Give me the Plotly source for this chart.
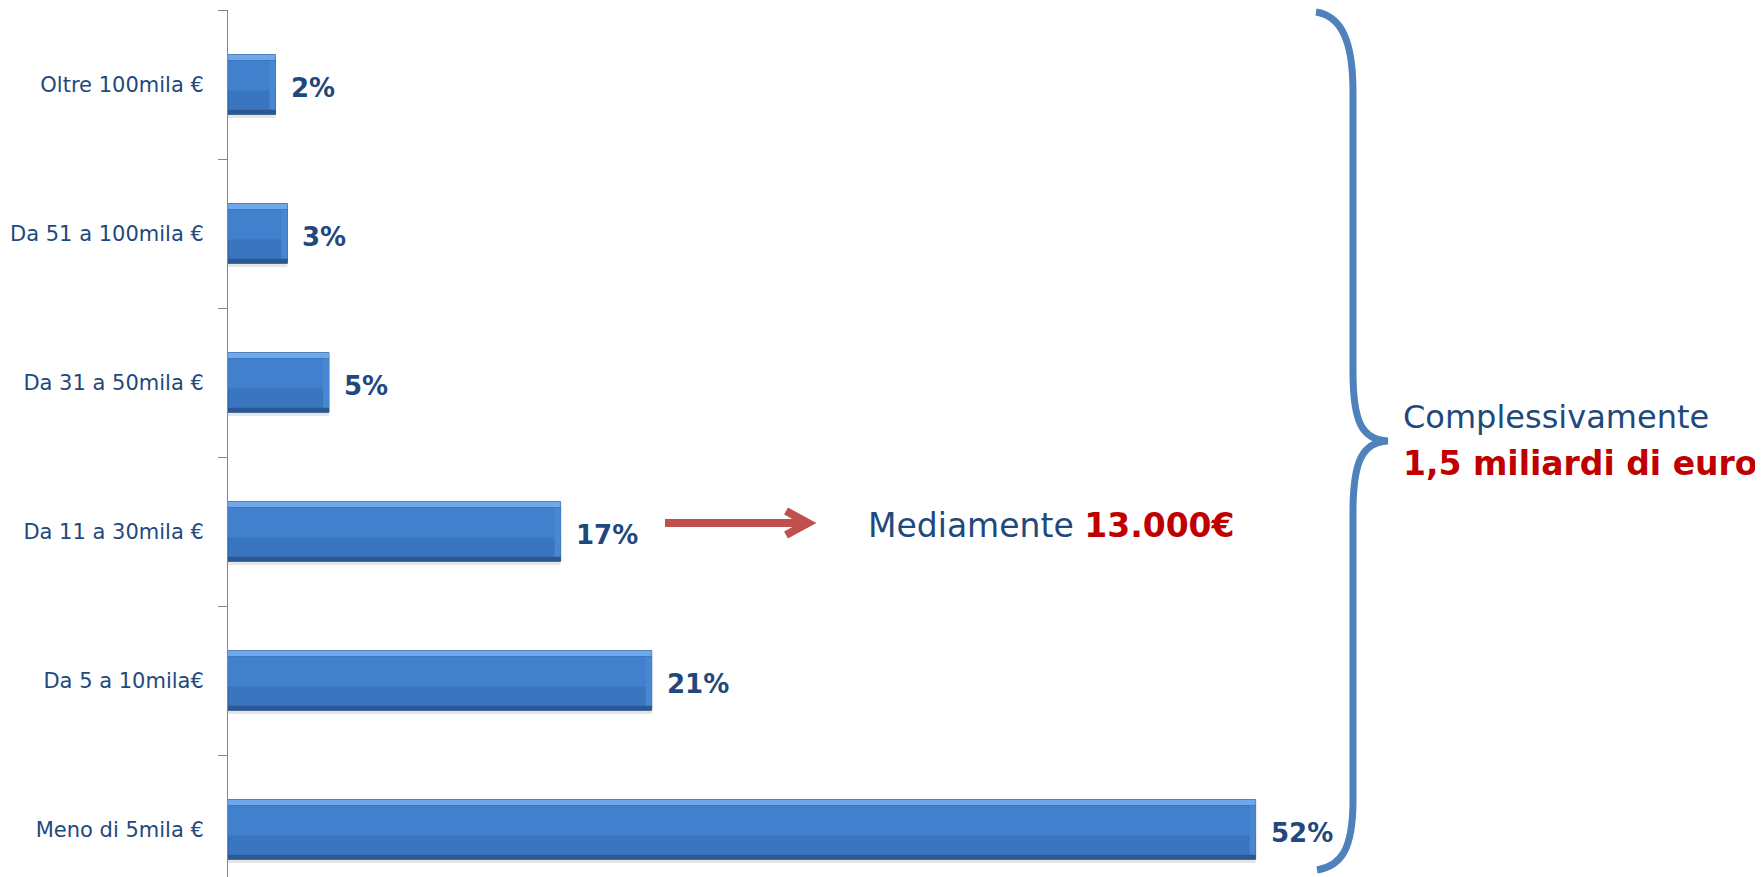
import plotly.graph_objects as go

# ---- data (bottom to top) ----
categories = ["Meno di 5mila €", "Da 5 a 10mila€", "Da 11 a 30mila €",
              "Da 31 a 50mila €", "Da 51 a 100mila €", "Oltre 100mila €"]
values = [51.9, 21.4, 16.8, 5.1, 3.0, 2.4]
labels = [f"{round(v)}%" for v in values]

note_avg = "Mediamente "
note_avg_value = "13.000€"
note_total = "Complessivamente"
note_total_value = "1,5 miliardi di euro"

# ---- layout geometry (page has an 8px body margin) ----
PAGE_OFF = 8
W, H = 1763 - PAGE_OFF, 877 - PAGE_OFF
L, R, T, B = 228 - PAGE_OFF, 0, 10 - PAGE_OFF, 0
PW, PH = W - L - R, H - T - B
PX_PER_UNIT = 19.8
BAND = 149
n = len(categories)
y_top = n - 0.5
y_bottom = y_top - PH / BAND
x_max = PW / PX_PER_UNIT


def px(x):
    # x given in screen pixels
    return (x - PAGE_OFF - L) / PW


def py(y):
    # y given in screen pixels
    return (H - B - (y - PAGE_OFF)) / PH


BLUE_TXT = "#1F497D"
RED_TXT = "#C00000"
FONT = "DejaVu Sans"

fig = go.Figure()


def layer(offset, width, color, x=None, base=None, line=None):
    fig.add_trace(go.Bar(
        x=x if x is not None else values, y=categories, base=base,
        orientation="h", offset=offset, width=width,
        marker=dict(color=color, line=line or dict(width=0)),
        hoverinfo="skip", showlegend=False))


# drop shadow
layer(-0.225, 0.03, "rgba(0,0,0,0.10)")
# main body
layer(-0.2, 0.4, "#3A75C0", line=dict(color="#2F5E9B", width=1))
# upper part slightly lighter (gradient feel)
layer(-0.04, 0.2, "#4080CC")
# right end bevel
layer(-0.17, 0.33, "#4A87D1", x=[0.3] * n, base=[v - 0.3 for v in values])
# top highlight
layer(0.165, 0.035, "#6FA8EA")
# bottom dark edge
layer(-0.2, 0.03, "#2C5891")

annotations = []
for v, c, t in zip(values, categories, labels):
    annotations.append(dict(
        x=v, y=c, xref="x", yref="y", text=f"<b>{t}</b>",
        xanchor="left", yanchor="middle", xshift=13, yshift=-3,
        showarrow=False, font=dict(family=FONT, size=26, color=BLUE_TXT)))

annotations.append(dict(
    x=px(866), y=py(525), xref="paper", yref="paper",
    text=f"{note_avg}<b><span style='color:{RED_TXT}'>{note_avg_value}</span></b>",
    xanchor="left", yanchor="middle", showarrow=False,
    font=dict(family=FONT, size=33, color=BLUE_TXT)))
annotations.append(dict(
    x=px(1401), y=py(417), xref="paper", yref="paper", text=note_total,
    xanchor="left", yanchor="middle", showarrow=False,
    font=dict(family=FONT, size=32, color=BLUE_TXT)))
annotations.append(dict(
    x=px(1401), y=py(463), xref="paper", yref="paper",
    text=f"<b>{note_total_value}</b>",
    xanchor="left", yanchor="middle", showarrow=False,
    font=dict(family=FONT, size=33, color=RED_TXT)))


def path_from(cmds):
    out = []
    for cmd in cmds:
        op, pts = cmd[0], cmd[1:]
        coords = " ".join(f"{px(x):.5f},{py(y):.5f}" for x, y in pts)
        out.append(f"{op}{coords}")
    return " ".join(out)


brace = path_from([
    ("M", (1316, 12)),
    ("C", (1341, 16), (1353, 40), (1353, 92)),
    ("L", (1353, 372)),
    ("C", (1353, 422), (1362, 440), (1388, 441)),
    ("C", (1362, 442), (1353, 462), (1353, 512)),
    ("L", (1353, 800)),
    ("C", (1353, 850), (1341, 866), (1317, 870)),
])

arrow_shaft = path_from([("M", (665, 523)), ("L", (804, 523))])
arrow_head = path_from([("M", (786, 511)), ("L", (808, 523)), ("L", (786, 535))])

shapes = [
    dict(type="path", path=brace, xref="paper", yref="paper",
         line=dict(color="#4F81BD", width=7)),
    dict(type="path", path=arrow_shaft, xref="paper", yref="paper",
         line=dict(color="#C0504D", width=8)),
    dict(type="path", path=arrow_head, xref="paper", yref="paper",
         line=dict(color="#C0504D", width=8)),
]

fig.update_layout(
    width=W, height=H,
    margin=dict(l=L, r=R, t=T, b=B, pad=0, autoexpand=False),
    paper_bgcolor="white", plot_bgcolor="white",
    barmode="overlay",
    showlegend=False,
    annotations=annotations,
    shapes=shapes,
    xaxis=dict(range=[0, x_max], visible=False, fixedrange=True,
               automargin=False),
    yaxis=dict(
        type="category", categoryorder="array", categoryarray=categories,
        range=[y_bottom, y_top], showline=True, linecolor="#868686",
        linewidth=1, ticks="outside", ticklen=9, tickcolor="#868686",
        tickwidth=1, tickson="boundaries", ticklabelstandoff=19,
        showgrid=False, zeroline=False, fixedrange=True, automargin=False,
        tickfont=dict(family=FONT, size=21, color=BLUE_TXT)),
)

fig.write_html("out.html")
